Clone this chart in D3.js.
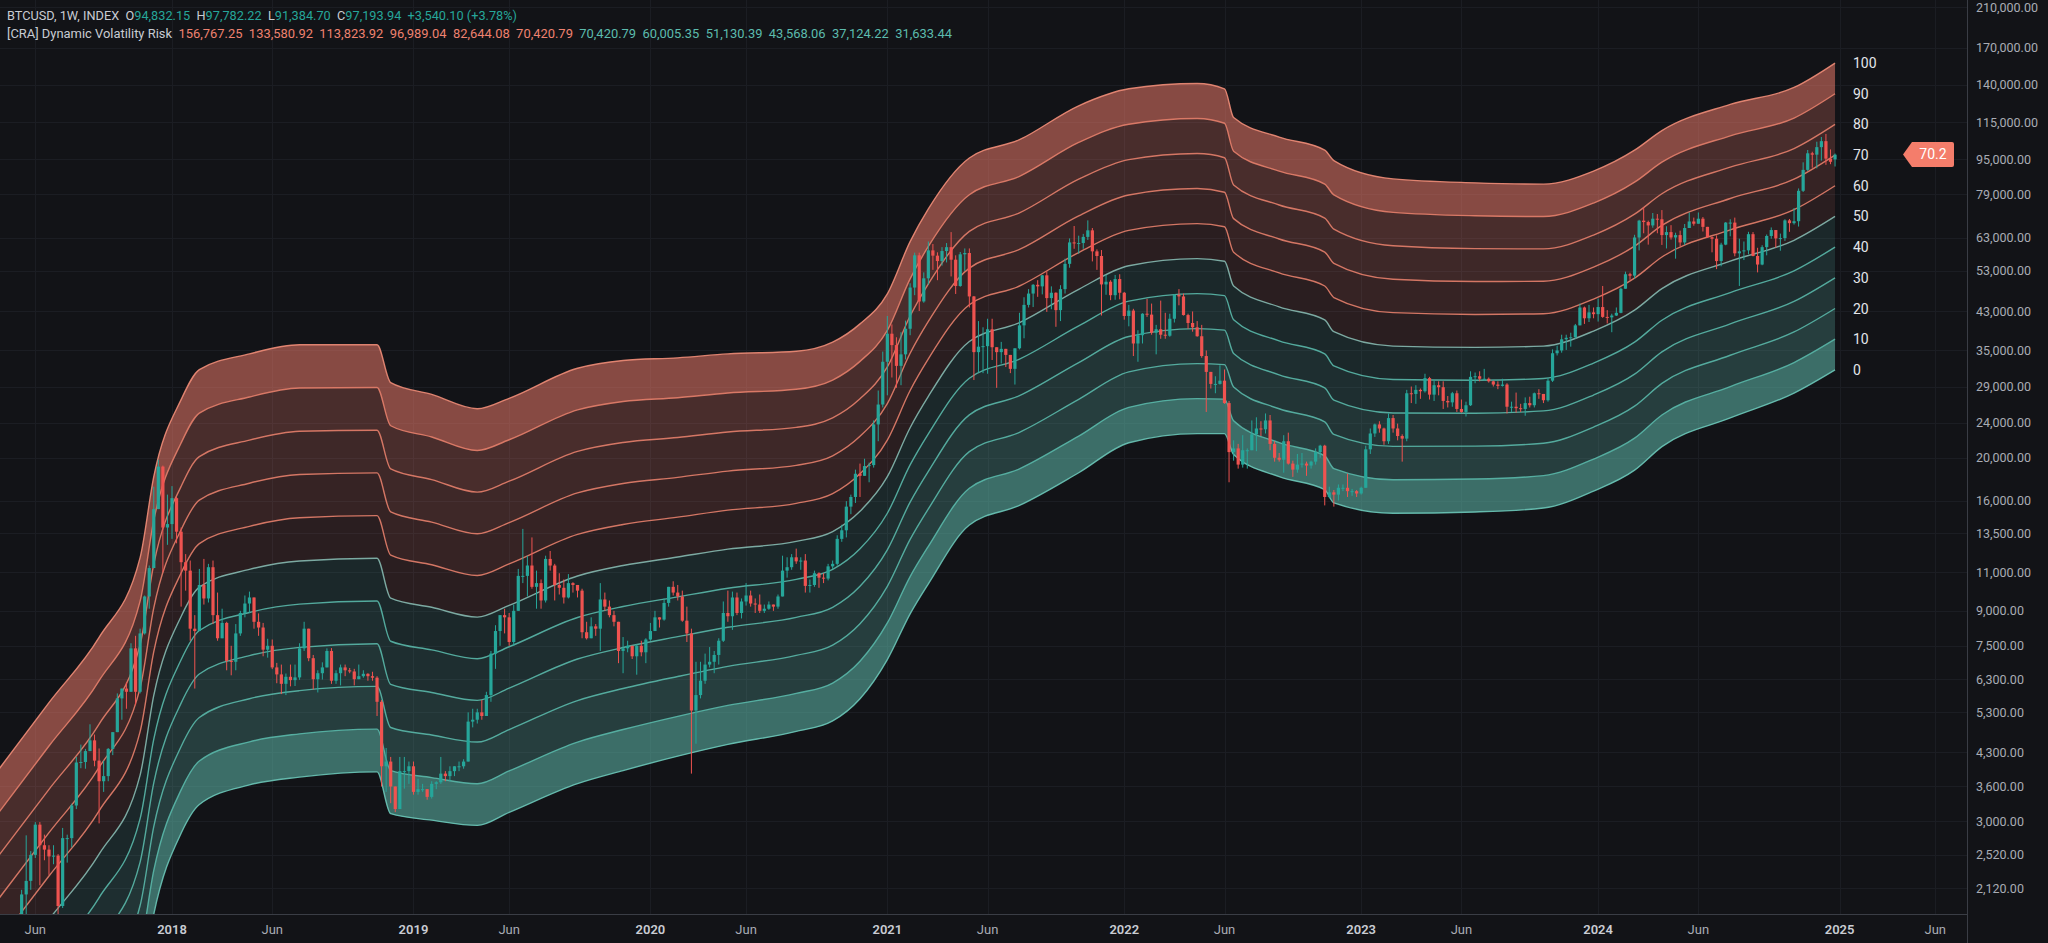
<!DOCTYPE html>
<html><head><meta charset="utf-8">
<script src="https://cdn.jsdelivr.net/npm/d3@7"></script>
<style>html,body{margin:0;padding:0;background:#121317;overflow:hidden}text{font-family:Roboto,"Noto Sans",sans-serif}</style>
</head><body><svg id="c" width="2048" height="943"></svg>
<script>
// ---------------- DATA ----------------
const symbolTitle = "BTCUSD, 1W, INDEX";
const headerOHLC = [94832.15, 97782.22, 91384.70, 97193.94];
const headerChange = "+3,540.10 (+3.78%)";
const indicatorTitle = "[CRA] Dynamic Volatility Risk";
const indicatorUpperVals = ["156,767.25","133,580.92","113,823.92","96,989.04","82,644.08","70,420.79"];
const indicatorLowerVals = ["70,420.79","60,005.35","51,130.39","43,568.06","37,124.22","31,633.44"];
const currentRisk = 70.2;

const firstWeek = "2017-04-10";
const firstOpen = 1205;
const lastWeek = "2024-12-30";
// weekly [close, high, low], one row per week from firstWeek to 2024-12-23
const candleCHL = [
// 2017
[1180,1215,1150],[1250,1265,1170],[1350,1355,1240],[1550,1640,1340],[1725,1790,1560],[2050,2100,1700],[2200,2790,1850],[2520,2570,2100],
[2950,2990,2480],[2650,2990,2150],[2590,2800,2450],[2500,2650,2270],[2510,2650,2400],[1930,2530,1830],[2750,2900,1910],[2750,2800,2420],
[3260,3290,2620],[4080,4200,3200],[4090,4480,3960],[4330,4380,3950],[4580,4980,4330],[4120,4720,4000],[3700,4390,2970],[3800,4120,3500],
[4380,4400,3700],[4780,4780,4240],[5700,5850,4780],[6000,6000,5100],[5900,6200,5400],[7400,7600,6100],[5900,7900,5500],[8000,8200,5850],
[9700,9750,7950],[11250,11400,9100],[15300,17200,11300],[19100,19800,15800],[13900,19200,11000],[14150,16500,12700],
// 2018
[16200,17250,13100],[13600,16300,12800],[11600,13900,9200],[11100,12100,10000],[8200,11700,7700],[8100,8800,6000],[10300,11200,8200],
[9600,11800,9300],[11300,11500,9400],[8800,11700,8400],[7800,9900,7700],[8450,9100,7800],[6930,8500,6600],[6900,7500,6430],[8000,8400,6600],
[8900,9000,7900],[9350,9750,8700],[9650,9950,8900],[8500,9650,8200],[8250,8880,7900],[7350,8450,7100],[7500,7780,7050],[6700,7750,6640],
[6460,6860,6170],[6150,6800,5830],[6380,6490,5800],[6270,6800,6070],[6360,6800,6080],[7400,7600,6280],[8200,8500,7300],[7030,8200,6920],
[6300,7150,5970],[6500,6600,5880],[6700,6880,6290],[7300,7400,6700],[6250,7410,6150],[6500,6600,6150],[6700,6800,6100],[6600,6800,6400],
[6560,6680,6500],[6300,6650,6100],[6400,6800,6300],[6480,6600,6350],[6400,6500,6250],[6350,6550,6250],[5600,6400,5200],[4000,5650,3600],
[4100,4400,3500],[3600,4200,3300],[3200,3600,3150],[3900,4200,3250],[3900,4200,3560],[4000,4100,3650],
// 2019
[3500,4100,3450],[3550,3750,3450],[3550,3650,3500],[3410,3550,3360],[3650,3700,3380],[3680,3700,3550],[3850,4200,3650],[3800,3900,3700],
[3900,4000,3700],[4000,4000,3800],[4000,4100,3900],[4100,4150,3950],[5050,5300,4100],[5100,5400,4900],[5300,5400,5000],[5200,5650,5100],
[5800,5900,5250],[7200,7300,5600],[8100,8350,6650],[8800,8800,7500],[8700,9100,8000],[7650,8900,7500],[9000,9300,7500],[10800,11200,9000],
[10800,13800,10400],[11400,12000,9700],[10200,13200,10100],[10400,11100,9100],[9500,10600,9100],[11800,12000,9400],[11400,12300,11100],
[10300,11500,9500],[10150,10950,9800],[9650,10600,9350],[10400,10900,9600],[10300,10450,9900],[10000,10300,9650],[8050,10100,7800],
[7800,8500,7750],[8300,8700,8100],[8200,8400,7900],[9550,10400,7300],[9200,9900,9000],[8800,9500,8700],[8500,9000,8300],[7300,8500,6850],
[7400,7850,6500],[7500,7700,7250],[7100,7450,7000],[7500,7550,6450],[7250,7700,7100],[7750,7800,6850],
// 2020
[8100,8450,7700],[8700,9000,8100],[8600,8700,8250],[9380,9600,8550],[10200,10200,9200],[9900,10500,9750],[9700,10300,9500],[8550,10000,8500],
[8000,9200,7650],[5350,8200,3850],[5800,6900,4500],[6250,6900,5700],[6800,7200,6150],[6900,7450,6700],[7150,7300,6500],[7700,7800,6800],
[8900,9450,7650],[8750,10000,8500],[9650,9950,8150],[8900,9900,8800],[9450,9600,8650],[9750,10400,9250],[9350,10000,9200],[9300,9600,8900],
[9000,9800,8900],[9100,9300,8900],[9300,9450,9050],[9200,9300,9000],[9700,9800,9100],[11100,12000,9700],[11300,11900,10700],[11900,12100,11150],
[11650,12450,11500],[11700,11900,11150],[10250,12100,9900],[10300,10600,9900],[10950,11100,10200],[10700,11000,10150],[10650,10950,10400],
[11350,11500,10550],[11500,11700,11200],[13100,13350,11400],[13700,14100,12900],[15500,15950,13200],[16300,16500,14900],[18400,18800,15800],
[18200,19400,16300],[19150,19900,18200],[19250,19500,17600],[23800,24300,19000],[26400,28400,21800],[33000,34800,26000],
// 2021
[38200,41900,27700],[36000,40100,30400],[32300,37500,28800],[34300,38500,29200],[39200,40900,33400],[48600,49700,37900],[57500,58300,46700],
[45200,58300,43000],[51000,52600,44900],[59000,61800,49300],[57400,61000,53300],[55800,58400,50500],[58800,60000,54500],[60000,61300,55400],
[56200,64900,51500],[49000,57500,47000],[57800,58500,48800],[58200,59600,53000],[46400,59600,43800],[34700,46500,30000],[35700,40800,31200],
[35800,39500,31100],[39100,41300,31000],[35600,41300,33300],[34700,35500,28800],[35300,36600,32700],[34200,35100,32100],[31800,34000,31100],
[35400,35400,29300],[39900,42600,35200],[44400,46200,37300],[47100,48200,43800],[49300,49500,43900],[48900,50500,46300],[51800,51900,46900],
[46000,52900,42800],[47300,48900,43400],[43200,47400,39600],[48200,49200,40800],[55000,56500,47100],[61500,62800,53900],[61300,67000,59500],
[61300,63700,58000],[63300,64300,59500],[65500,69000,62300],[58700,66300,55700],[57300,59300,53300],[49400,59100,42000],[50100,51900,46800],
[46700,50500,45500],[50800,51900,45600],[47300,52100,45700],
// 2022
[41900,47500,41100],[43100,44400,39700],[36300,43500,34000],[37900,38900,33000],[42400,42500,36300],[42200,45800,41700],[38400,44700,38000],
[39100,40000,34300],[38000,45400,37200],[37800,42600,37200],[41300,42400,37600],[46800,47000,40500],[46400,48200,44300],[42100,47100,42000],
[40400,42400,39200],[39500,42900,38600],[37700,40800,37600],[34000,40000,33700],[31300,35000,25400],[29400,31300,28700],[29400,30600,28000],
[29900,32400,29300],[26600,31700,26500],[20600,26900,17600],[21000,21900,19700],[19300,21500,18900],[20800,22500,19000],[20800,21000,18900],
[22600,24300,20800],[23300,24700,20700],[23200,24200,22400],[24300,25200,22700],[21500,25000,20800],[20000,21800,19600],[19800,20500,19600],
[21800,22500,18500],[19400,22800,19300],[18800,19700,18100],[19300,20400,18500],[19400,20500,19000],[19200,19600,18200],[19600,19700,18900],
[20600,21000,19300],[21300,21400,20000],[16300,21400,15600],[16700,17200,16200],[16500,16900,15500],[17100,17400,16000],[17100,17400,16800],
[16800,18400,16300],[16800,17000,16400],[16600,16900,16300],
// 2023
[17100,17200,16500],[20900,21300,17100],[22700,23300,20400],[23800,23900,22300],[23300,24200,22800],[21800,23400,21400],[24600,25200,21500],
[23300,25000,22800],[22400,23900,21900],[22100,22600,19600],[28000,28500,21800],[27900,29000,26600],[28500,29200,26500],[28300,28700,27200],
[30300,31000,28100],[27800,30500,27100],[29200,30000,26900],[28900,29800,27700],[26900,29800,25800],[26700,27600,26000],[28000,28200,26100],
[25800,28400,25400],[25400,27100,25300],[26300,26800,24800],[30500,31400,26200],[30600,31200,29500],[30200,31400,29800],[30200,31800,29900],
[29800,30400,29600],[29300,29900,29000],[29100,29800,28600],[29300,30200,29000],[26100,29500,25200],[26100,26800,25400],[25900,28100,25300],
[25800,26500,25400],[26600,27400,24900],[26300,27500,26000],[28000,28100,26000],[27900,28600,27200],[27000,27900,26600],[29900,30300,26800],
[34500,35200,29700],[35000,35900,34100],[37100,38000,34600],[37400,38000,35100],[37500,38400,35700],[39900,40200,37200],[43800,44700,39900],
[41400,44000,40200],[42700,44400,40600],[42300,43800,41400],
// 2024
[43900,45900,40700],[41700,49000,41500],[41600,43200,40300],[42000,42400,38500],[42600,43800,41900],[48300,48600,42500],[52100,52800,48400],
[51700,52500,50600],[63100,64000,50900],[68900,69200,59000],[68400,73800,64500],[67200,68900,60800],[69600,71700,66400],[69400,71300,64500],
[63900,72800,60700],[64900,66900,59600],[63100,67300,62400],[63900,64700,56500],[61500,65400,60200],[66300,67700,60700],[68600,71900,66600],
[67800,70000,67100],[69600,71900,68500],[66700,70200,65100],[63200,66500,63000],[62700,63400,58400],[55800,63800,53500],[60800,61400,54300],
[68200,68400,60600],[68200,69400,63500],[58100,70000,57200],[58700,62700,49000],[59000,61800,56100],[64200,65000,57800],[57300,64900,57200],
[54800,59800,52600],[60000,60600,54600],[63600,64100,57500],[65600,66500,62700],[62800,65500,59800],[62900,64400,58900],[69000,69400,62000],
[68000,69500,65000],[68700,73600,67500],[80500,81500,66800],[89800,93400,80000],[97900,99600,89300],[97200,98700,90800],[101100,104000,90500],
[104300,106600,94200],[95200,108300,92200],[93654,99900,92500]
];

// band edges (risk 100 and risk 0); levels in between are geometric
const bandDates = ["2017-04-10","2017-06-26","2017-09-11","2017-11-13","2017-12-04","2018-01-15","2018-02-12","2018-04-30","2018-07-16","2018-11-12",
"2018-12-03","2019-02-04","2019-04-15","2019-06-03","2019-09-16","2019-11-25","2020-02-17","2020-05-04","2020-08-17","2020-10-12","2020-11-23",
"2021-01-04","2021-02-08","2021-03-08","2021-05-10","2021-07-26","2021-10-25","2022-01-10","2022-04-25","2022-06-06","2022-06-20","2022-08-29",
"2022-11-07","2022-11-21","2023-02-20","2023-06-26","2023-10-09","2023-12-25","2024-02-26","2024-04-08","2024-07-22","2024-10-28","2024-12-30"];
const band100 = [3939,5575,7838,11877,18122,27084,31678,34379,36059,36059,29592,27832,25821,27268,31894,33227,33680,34379,34850,36553,40211,
47035,61766,73233,95523,105085,125448,137064,140854,137064,117981,106522,99510,94230,85655,83925,83356,89230,99510,110222,126318,138004,156767.25];
const band0 = [416,581,816,1229,1849,2821,3277,3630,3781,3886,3124,3020,2939,3146,3654,3912,4217,4483,4799,5068,5690,
6981,8861,10364,14082,15598,18495,21632,22687,22687,20345,18122,16926,15810,14974,15076,15387,16812,18747,21195,24619,28024,31633.44];
const riskLevels = [0,10,20,30,40,50,60,70,80,90,100];

const priceTicks = [210000,170000,140000,115000,95000,79000,63000,53000,43000,35000,29000,24000,20000,16000,13500,11000,9000,7500,6300,5300,4300,3600,3000,2520,2120];
const timeTicks = [["2017-06-05","Jun"],["2018-01-01","2018"],["2018-06-04","Jun"],["2019-01-07","2019"],["2019-06-03","Jun"],["2020-01-06","2020"],
["2020-06-01","Jun"],["2021-01-04","2021"],["2021-06-07","Jun"],["2022-01-03","2022"],["2022-06-06","Jun"],["2023-01-02","2023"],["2023-06-05","Jun"],
["2024-01-01","2024"],["2024-06-03","Jun"],["2025-01-06","2025"],["2025-06-02","Jun"]];

// ---------------- DRAW ----------------
const W=2048,H=943,plotR=1967,plotB=914;
const parse=d3.utcParse("%Y-%m-%d");
const svg=d3.select("#c");
const BG="#121317";
svg.append("rect").attr("width",W).attr("height",H).attr("fill",BG);

const x=d3.scaleUtc().domain([parse("2018-01-01"),parse("2025-01-06")]).range([172,1839.6]);
const y=d3.scaleLog().domain([2120,210000]).range([888,7]);

svg.append("clipPath").attr("id","plot").append("rect").attr("x",0).attr("y",0).attr("width",plotR).attr("height",plotB);

// grid
const grid=svg.append("g").attr("stroke","#1b1d23").attr("stroke-width",1);
priceTicks.forEach(v=>grid.append("line").attr("x1",0).attr("x2",plotR).attr("y1",Math.round(y(v))+0.5).attr("y2",Math.round(y(v))+0.5));
timeTicks.forEach(t=>grid.append("line").attr("x1",Math.round(x(parse(t[0])))+0.5).attr("x2",Math.round(x(parse(t[0])))+0.5).attr("y1",0).attr("y2",plotB));

// bands
const bands=bandDates.map((d,i)=>({date:parse(d),lo:band0[i],hi:band100[i]}));
const lvl=(d,k)=>d.lo*Math.pow(d.hi/d.lo,k/100);
const plot=svg.append("g").attr("clip-path","url(#plot)");
const teal=[95,185,172], salmon=[240,125,108];
const fillAlpha=[0.55,0.26,0.21,0.17,0.13,0.11,0.16,0.20,0.25,0.53];
for(let i=0;i<10;i++){
  const base=i<5?teal:salmon, a=fillAlpha[i];
  const lo=riskLevels[i], hi=riskLevels[i+1];
  const area=d3.area().x(d=>x(d.date)).y0(d=>y(lvl(d,lo))).y1(d=>y(lvl(d,hi))).curve(d3.curveMonotoneX);
  plot.append("path").datum(bands).attr("d",area).attr("fill",`rgba(${base[0]},${base[1]},${base[2]},${a})`);
}
riskLevels.forEach(k=>{
  const line=d3.line().x(d=>x(d.date)).y(d=>y(lvl(d,k))).curve(d3.curveMonotoneX);
  let col = k>50 ? "#e57f6b" : (k<50 ? "#5ab8aa" : "#86b9b0");
  if(k===100) col="#ef8d78";
  if(k===0) col="#6cc7b8";
  plot.append("path").datum(bands).attr("d",line).attr("fill","none").attr("stroke",col).attr("stroke-width",1.4).attr("stroke-opacity",0.9);
});

// candles
const t0=parse(firstWeek);
const candles=candleCHL.map((r,i)=>({date:new Date(t0.getTime()+i*7*864e5),o:i===0?firstOpen:candleCHL[i-1][0],c:r[0],h:r[1],l:r[2]}));
candles.push({date:parse(lastWeek),o:headerOHLC[0],h:headerOHLC[1],l:headerOHLC[2],c:headerOHLC[3]});
const cg=plot.append("g");
candles.forEach(d=>{
  const up=d.c>=d.o, col=up?"#26a69a":"#ef5350";
  const cx=x(d.date);
  const hi=Math.max(d.h,d.o,d.c), lo=Math.min(d.l,d.o,d.c);
  cg.append("line").attr("x1",cx).attr("x2",cx).attr("y1",y(hi)).attr("y2",y(lo)).attr("stroke",col).attr("stroke-width",1);
  const yt=y(Math.max(d.o,d.c)), yb=y(Math.min(d.o,d.c));
  cg.append("rect").attr("x",cx-1.6).attr("width",3.2).attr("y",yt).attr("height",Math.max(1,yb-yt)).attr("fill",col);
});

// axes lines
svg.append("line").attr("x1",plotR+0.5).attr("x2",plotR+0.5).attr("y1",0).attr("y2",H).attr("stroke","#3a3d45");
svg.append("line").attr("x1",0).attr("x2",plotR).attr("y1",plotB+0.5).attr("y2",plotB+0.5).attr("stroke","#3a3d45");

// price labels
const fmt=d3.format(",.2f");
priceTicks.forEach(v=>svg.append("text").attr("x",1976).attr("y",y(v)+4.5).attr("fill","#a9acb4").attr("font-size",12.5).text(fmt(v)));

// time labels
timeTicks.forEach(t=>{
  const yr=t[1]!=="Jun";
  svg.append("text").attr("x",x(parse(t[0]))).attr("y",933.5).attr("text-anchor","middle")
    .attr("fill",yr?"#c9ccd3":"#a9acb4").attr("font-size",13).attr("font-weight",yr?600:400).text(t[1]);
});

// level labels at last bar
const lastBand=bands[bands.length-1];
riskLevels.forEach(k=>{
  svg.append("text").attr("x",1853).attr("y",y(lvl(lastBand,k))+5).attr("fill","#e3e5ea").attr("font-size",14).text(k);
});
// current risk tag
const ty=y(lvl(lastBand,currentRisk));
svg.append("path").attr("d",`M1903,${ty} L1912,${ty-12.5} L1952,${ty-12.5} Q1954,${ty-12.5} 1954,${ty-10.5} L1954,${ty+10.5} Q1954,${ty+12.5} 1952,${ty+12.5} L1912,${ty+12.5} Z`).attr("fill","#f47d6b");
svg.append("text").attr("x",1933).attr("y",ty+5).attr("text-anchor","middle").attr("fill","#ffffff").attr("font-size",14).text(currentRisk.toFixed(1));

// header
const TXT="#c9ccd3", UP="#26a69a", SAL="#ef8270", TEAL="#5cbcae";
const h1=svg.append("text").attr("x",7).attr("y",19.5).attr("font-size",12.5).attr("fill",TXT).style("white-space","pre")
  .attr("textLength",510).attr("lengthAdjust","spacingAndGlyphs");
h1.append("tspan").text(symbolTitle+"  ");
["O","H","L","C"].forEach((lab,i)=>{
  h1.append("tspan").attr("fill",TXT).text(lab);
  h1.append("tspan").attr("fill",UP).text(fmt(headerOHLC[i])+"  ");
});
h1.append("tspan").attr("fill",UP).text(headerChange);
const h2=svg.append("text").attr("x",7).attr("y",37.5).attr("font-size",12.5).attr("fill",TXT).style("white-space","pre")
  .attr("textLength",945).attr("lengthAdjust","spacingAndGlyphs");
h2.append("tspan").text(indicatorTitle+"  ");
indicatorUpperVals.forEach(v=>h2.append("tspan").attr("fill",SAL).text(v+"  "));
indicatorLowerVals.forEach((v,i)=>h2.append("tspan").attr("fill",TEAL).text(v+(i<indicatorLowerVals.length-1?"  ":"")));
</script></body></html>
